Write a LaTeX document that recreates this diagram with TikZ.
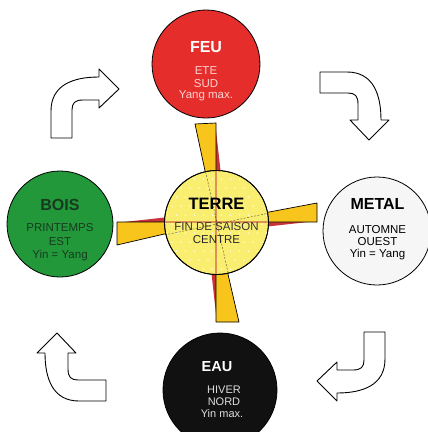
\documentclass[tikz,border=0pt]{standalone}
\usepackage{fontspec}
\setmainfont{Liberation Sans}
\definecolor{feured}{HTML}{E52D2B}
\definecolor{boisgreen}{HTML}{22983A}
\definecolor{terreyellow}{HTML}{FAEE70}
\definecolor{bladeyellow}{HTML}{F8C51C}
\definecolor{sliverred}{HTML}{C8323A}
\definecolor{metalgrey}{HTML}{F6F6F6}
\definecolor{eaublack}{HTML}{111111}
\definecolor{feusub}{HTML}{FBD3D0}
\definecolor{eausub}{HTML}{DDDDDD}
\definecolor{boistext}{HTML}{173A20}
\tikzset{
  elem/.style={circle, draw=black, line width=0.8pt, minimum size=#1, inner sep=0pt},
  ttl/.style={anchor=base, inner sep=0pt, font=\bfseries\fontsize{16}{18}\selectfont},
  sub/.style={anchor=base, inner sep=0pt, font=\fontsize{11.5}{13}\selectfont},
  bigarrow/.style={draw=black, fill=white, line width=0.9pt, line join=round},
  blade/.style={fill=bladeyellow, draw=black, line width=0.7pt, line join=round},
  sliver/.style={fill=sliverred, draw=none},
  bigarrowpath/.pic={
    \draw[bigarrow] (0,0) -- (-20,-20) -- (-20,-12)
      .. controls (-46,-12) and (-68,-4) .. (-68,22) -- (-68,49) -- (-47,49) -- (-47,21)
      .. controls (-47,14) and (-44,11) .. (-36,11) -- (-20,11) -- (-20,19) -- cycle;
  }
}
\begin{document}
\begin{tikzpicture}[x=1pt,y=-1pt]
\useasboundingbox (0,0) rectangle (428,432);
\fill[white] (0,0) rectangle (428,432);

% ---- curved arrows
\pic[shift={(119,89)}] {bigarrowpath};
\pic[shift={(369,140)}, rotate=-90] {bigarrowpath};
\pic[shift={(317,381)}, rotate=180] {bigarrowpath};
\pic[shift={(57,333)}, rotate=90] {bigarrowpath};

% ---- pinwheel blades
\coordinate (c) at (216,222);
\fill[sliver] (c) -- (221,175) -- (216,130) -- cycle;
\fill[sliver] (c) -- (263,227) -- (308,222) -- cycle;
\fill[sliver] (c) -- (211,269) -- (216,314) -- cycle;
\fill[sliver] (c) -- (169,217) -- (124,222) -- cycle;
\draw[blade] (c) -- (216,123) -- (195,124) -- cycle;
\draw[blade] (c) -- (317,222) -- (317,203) -- cycle;
\draw[blade] (c) -- (216,322) -- (239,322) -- cycle;
\draw[blade] (c) -- (117,222) -- (117,245) -- cycle;

% ---- element circles
\node[elem=108pt, fill=feured] (feu) at (206,64) {};
\node[elem=106pt, fill=boisgreen] (bois) at (60,224) {};
\node[elem=108pt, fill=metalgrey] (metal) at (377,231) {};
\node[elem=114pt, fill=eaublack] (eau) at (220,390) {};
\node[elem=104pt, fill=terreyellow] (terre) at (216.5,222.5) {};

\begin{scope}
  \clip (216.5,222.5) circle (52pt);
  \foreach \j in {0,...,12}{
    \foreach \i in {0,...,12}{
      \fill[white] ({163+\i*9+mod(\j,2)*4.5},{170+\j*9}) circle (0.75pt);
    }
  }
  \draw[sliverred!70!brown, opacity=0.55, line width=1.6pt] (216,160) -- (216,290);
  \draw[sliverred!70!brown, opacity=0.55, line width=1.6pt] (150,222) -- (290,222);
  \draw[black, opacity=0.55, dashed, line width=0.5pt, dash pattern=on 2pt off 1.5pt] (195,124) -- (239,322);
  \draw[black, opacity=0.55, dashed, line width=0.5pt, dash pattern=on 2pt off 1.5pt] (117,245) -- (317,203);
\end{scope}
\draw[black, line width=0.8pt] (216.5,222.5) circle (52pt);

% ---- texts
\node[ttl, text=white] (feut) at (206,52) {FEU};
\node[sub, text=feusub] (feu1) at (206,74) {ETE};
\node[sub, text=feusub] (feu2) at (206,87.3) {SUD};
\node[sub, text=feusub] (feu3) at (206,98.7) {Yang max.};

\node[ttl, text=black, font=\bfseries\fontsize{16.5}{18}\selectfont] (terret) at (216.5,209) {TERRE};
\node[sub, text=black!80] (terre1) at (216.5,230) {FIN DE SAISON};
\node[sub, text=black!85] (terre2) at (216.5,243.3) {CENTRE};

\node[ttl, text=boistext] (boist) at (60,210.7) {BOIS};
\node[sub, text=boistext] (bois1) at (60,231.7) {PRINTEMPS};
\node[sub, text=boistext] (bois2) at (60,245) {EST};
\node[sub, text=boistext] (bois3) at (60,258.5) {Yin = Yang};

\node[ttl, text=black] (metalt) at (377.5,209.3) {METAL};
\node[sub, text=black] (metal1) at (377.5,233.3) {AUTOMNE};
\node[sub, text=black] (metal2) at (377.5,245) {OUEST};
\node[sub, text=black] (metal3) at (377.5,257.5) {Yin = Yang};

\node[ttl, text=white, font=\bfseries\fontsize{14.5}{17}\selectfont] (eaut) at (217,371.7) {EAU};
\node[sub, text=eausub, font=\fontsize{11}{13}\selectfont] (eau1) at (224,393.3) {HIVER};
\node[sub, text=eausub, font=\fontsize{11}{13}\selectfont] (eau2) at (224,405) {NORD};
\node[sub, text=eausub, font=\fontsize{11}{13}\selectfont] (eau3) at (222,417) {Yin max.};
\end{tikzpicture}
\end{document}
